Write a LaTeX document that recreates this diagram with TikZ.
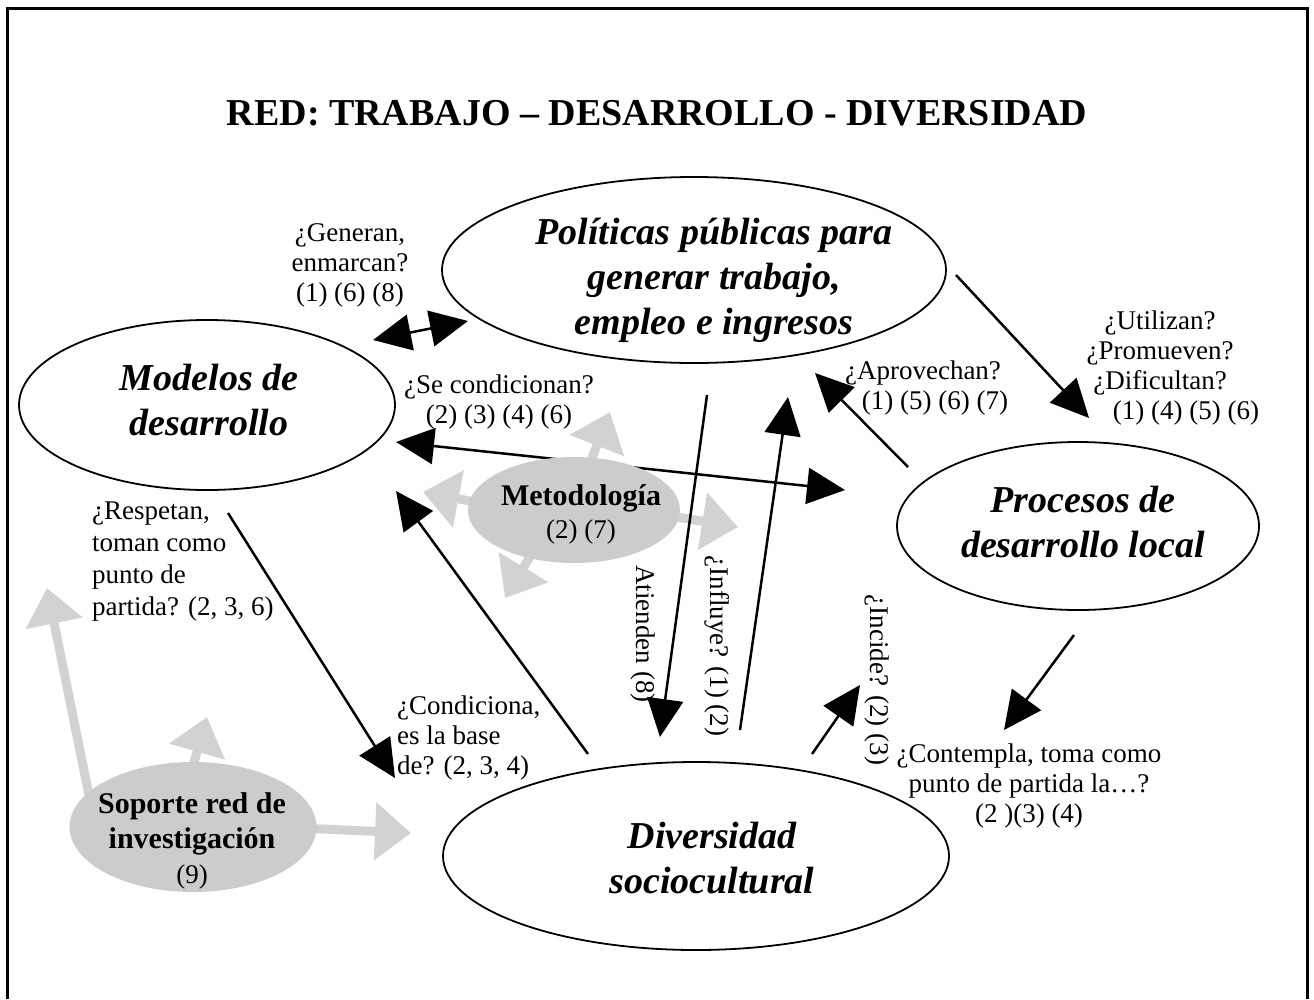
\documentclass[tikz,border=0pt]{standalone}
\usepackage{fontspec}
\setmainfont{Liberation Serif}
\usetikzlibrary{shapes.geometric,arrows.meta}

\tikzset{
  oval/.style={ellipse, draw, line width=1.8pt, fill=white, inner sep=0pt},
  greyoval/.style={ellipse, fill=gray!40, inner sep=0pt},
  ovaltext/.style={align=center, inner sep=0pt, font=\fontsize{38}{45}\selectfont\bfseries\itshape},
  greytext/.style={align=center, inner sep=0pt, font=\fontsize{30}{33}\selectfont},
  question/.style={align=center, inner sep=0pt, font=\fontsize{27}{30}\selectfont},
  link/.style={line width=2.5pt, -{Triangle[length=38pt,width=36pt]}},
  twolink/.style={line width=2.5pt, {Triangle[length=38pt,width=36pt]}-{Triangle[length=38pt,width=36pt]}},
  greylink/.style={line width=9pt, gray!35, -{Triangle[length=36pt,width=56pt]}},
}

\begin{document}
\begin{tikzpicture}[x=1pt, y=-1pt]
  \useasboundingbox (0, 0) rectangle (1314, 999);
  \draw [line width=3pt] (7, 999) -- (7, 8) -- (1307, 8) -- (1307, 999);

  \node [font=\fontsize{38}{45}\selectfont\bfseries] (title) at (657, 113) {RED: TRABAJO – DESARROLLO - DIVERSIDAD};

  \coordinate (mu1) at (590, 463);
  \coordinate (mu2) at (610, 412);
  \coordinate (ml1) at (480, 503);
  \coordinate (ml2) at (423, 492);
  \coordinate (mr1) at (670, 516);
  \coordinate (mr2) at (738, 527);
  \coordinate (md1) at (540, 540);
  \coordinate (md2) at (505, 598);
  \coordinate (sl1) at (92, 810);
  \coordinate (sl2) at (47, 588);
  \coordinate (su1) at (186, 790);
  \coordinate (su2) at (207, 717);
  \coordinate (sr1) at (300, 828);
  \coordinate (sr2) at (411, 833);
  \draw [greylink] (mu1) -- (mu2);
  \draw [greylink] (ml1) -- (ml2);
  \draw [greylink] (mr1) -- (mr2);
  \draw [greylink] (md1) -- (md2);
  \draw [greylink] (sl1) -- (sl2);
  \draw [greylink] (su1) -- (su2);
  \draw [greylink] (sr1) -- (sr2);

  \coordinate (c1) at (396, 442);
  \coordinate (c2) at (845, 490);
  \draw [twolink] (c1) -- (c2);

  \node [greyoval, minimum width=212, minimum height=106] (met) at (574, 510) {};
  \node [greytext] (mettxt) at (581, 514) {\textbf{Metodología}\\{\fontsize{27}{30}\selectfont (2) (7)}};
  \node [greyoval, minimum width=247, minimum height=130] (sop) at (193, 827) {};
  \node [greytext, font=\fontsize{30}{35}\selectfont] (soptxt) at (192, 841) {\textbf{Soporte red de}\\\textbf{investigación}\\{\fontsize{27}{30}\selectfont (9)}};

  \node [oval, minimum width=504, minimum height=186] (pol) at (694, 270) {};
  \node [ovaltext] (poltxt) at (714, 280) {Políticas públicas para\\generar trabajo,\\empleo e ingresos};
  \node [oval, minimum width=376, minimum height=170] (mod) at (207, 405) {};
  \node [ovaltext] (modtxt) at (209, 400) {Modelos de\\desarrollo};
  \node [oval, minimum width=362, minimum height=168] (proc) at (1078, 526) {};
  \node [ovaltext] (proctxt) at (1083, 522) {Procesos de\\desarrollo local};
  \node [oval, minimum width=506, minimum height=188] (div) at (696, 856) {};
  \node [ovaltext] (divtxt) at (712, 858) {Diversidad\\sociocultural};

  \node [question] (gen) at (350, 265) {¿Generan,\\enmarcan?\\(1) (6) (8)};
  \node [question] (cond) at (499, 402) {¿Se condicionan?\\(2) (3) (4) (6)};
  \node [question] (apro) at (923, 388) {¿Aprovechan?\\\hspace*{24pt}(1) (5) (6) (7)};
  \node [question] (util) at (1160, 368) {¿Utilizan?\\¿Promueven?\\¿Dificultan?\\\hspace*{52pt}(1) (4) (5) (6)};
  \node [question, font=\fontsize{27}{32}\selectfont, align=left, anchor=west] (resp) at (92, 562) {¿Respetan,\\toman como\\punto de\\partida? (2, 3, 6)};
  \node [question, align=left, anchor=west] (condi) at (397, 738) {¿Condiciona,\\es la base\\de? (2, 3, 4)};
  \node [question, rotate=-90] (atien) at (643, 634) {Atienden (8)};
  \node [question, rotate=-90] (influ) at (717, 646) {¿Influye? (1) (2)};
  \node [question, rotate=-90] (incid) at (877, 680) {¿Incide? (2) (3)};
  \node [question] (contem) at (1029, 786) {¿Contempla, toma como\\punto de partida la…?\\(2 )(3) (4)};

  \coordinate (g1) at (373, 340);
  \coordinate (g2) at (468, 321);
  \draw [twolink] (g1) -- (g2);
  \coordinate (a1) at (707, 395);
  \coordinate (a2) at (660, 737);
  \draw [link] (a1) -- (a2);
  \coordinate (i1) at (740, 730);
  \coordinate (i2) at (788, 397);
  \draw [link] (i1) -- (i2);
  \coordinate (p1) at (908, 467);
  \coordinate (p2) at (815, 373);
  \draw [link] (p1) -- (p2);
  \coordinate (u1) at (956, 275);
  \coordinate (u2) at (1089, 418);
  \draw [link] (u1) -- (u2);
  \coordinate (d1) at (588, 754);
  \coordinate (d2) at (396, 491);
  \draw [link] (d1) -- (d2);
  \coordinate (r1) at (228, 513);
  \coordinate (r2) at (395, 778);
  \draw [link] (r1) -- (r2);
  \coordinate (n1) at (812, 754);
  \coordinate (n2) at (860, 685);
  \draw [link] (n1) -- (n2);
  \coordinate (t1) at (1074, 635);
  \coordinate (t2) at (1004, 730);
  \draw [link] (t1) -- (t2);
\end{tikzpicture}
\end{document}
